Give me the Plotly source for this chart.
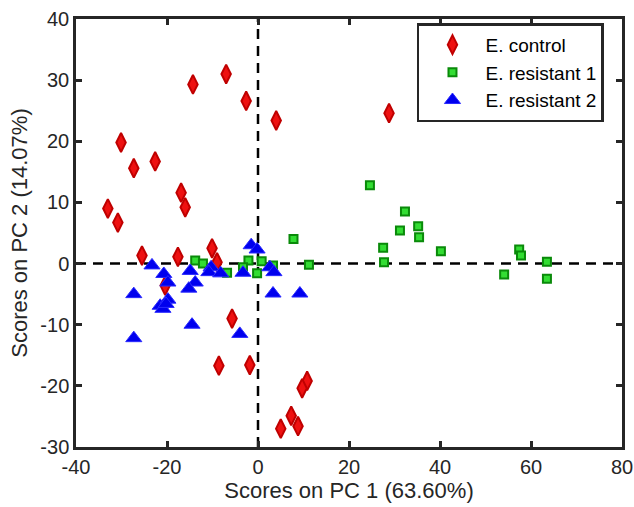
import plotly.graph_objects as go

ctrl_x = [28.8, 4.0, -2.6, -7.0, -14.3, -30.1, -22.6, -27.3, -16.9, -16.0, -33.0, -30.8, -25.5,
          -17.6, -10.1, -9.0, -20.4, -5.7, -8.6, -1.8, 10.8, 9.7, 7.3, 8.8, 5.0]
ctrl_y = [24.6, 23.4, 26.6, 31.0, 29.3, 19.8, 16.7, 15.6, 11.6, 9.2, 9.0, 6.7, 1.3,
          1.1, 2.5, 0.2, -3.6, -9.0, -16.7, -16.6, -19.2, -20.4, -24.9, -26.6, -27.0]

res1_x = [24.6, 32.3, 31.2, 35.2, 35.4, 27.5, 27.7, 40.2, 54.1, 57.4, 57.8, 63.5, 63.5,
          7.8, 11.2, -2.1, 0.8, -3.3, -0.2, 3.3, -6.8, -13.8, -12.1]
res1_y = [12.8, 8.5, 5.4, 6.1, 4.3, 2.6, 0.2, 2.0, -1.8, 2.3, 1.3, 0.3, -2.5,
          4.0, -0.2, 0.5, 0.4, -0.6, -1.6, -0.3, -1.5, 0.5, 0.0]

res2_x = [-23.3, -20.7, -19.8, -27.3, -27.3, -21.5, -20.9, -19.8, -20.2, -14.9, -13.8, -15.2,
          -14.5, -10.3, -10.8, -8.2, -4.0, -3.3, -1.5, -0.2, 2.6, 3.5, 3.3, 9.2]
res2_y = [-0.3, -1.7, -3.1, -5.0, -12.2, -6.9, -7.4, -5.9, -6.6, -1.2, -3.1, -4.1,
          -10.0, -0.6, -1.4, -1.6, -11.5, -1.5, 3.0, 2.3, -0.6, -1.4, -4.9, -4.9]

x_ticks = [-40, -20, 0, 20, 40, 60, 80]
y_ticks = [-30, -20, -10, 0, 10, 20, 30, 40]

FONT = "Liberation Sans, Arial, sans-serif"
AX = "#262626"

fig = go.Figure()
fig.add_trace(go.Scatter(x=ctrl_x, y=ctrl_y, mode="markers", name="E. control",
                         marker=dict(symbol="diamond-tall", size=13.5, color="#ee1111",
                                     line=dict(color="#c00000", width=2))))
fig.add_trace(go.Scatter(x=res1_x, y=res1_y, mode="markers", name="E. resistant 1",
                         marker=dict(symbol="square", size=8, color="#33dd33",
                                     line=dict(color="#0a8a0a", width=2))))
fig.add_trace(go.Scatter(x=res2_x, y=res2_y, mode="markers", name="E. resistant 2",
                         marker=dict(symbol="triangle-up", size=14, color="#0000ee",
                                     line=dict(color="#2a2aff", width=1))))

fig.add_shape(type="line", x0=0, x1=0, y0=-30, y1=40, xref="x", yref="y", layer="below",
              line=dict(color="black", width=2.5, dash="10px,7px"))
fig.add_shape(type="line", x0=-40, x1=80, y0=0, y1=0, xref="x", yref="y", layer="below",
              line=dict(color="black", width=2.5, dash="10px,7px"))

axis_common = dict(showgrid=False, zeroline=False, showline=True, linecolor=AX, linewidth=2.5,
                   mirror="ticks", ticks="inside", ticklen=6, tickwidth=2.5, tickcolor=AX,
                   automargin=False,
                   tickfont=dict(family=FONT, size=20, color=AX))

fig.update_xaxes(range=[-40, 80], tickvals=x_ticks, ticktext=[str(v) for v in x_ticks],
                 title=dict(text="Scores on PC 1 (63.60%)", font=dict(family=FONT, size=22, color=AX),
                            standoff=5),
                 **axis_common)
fig.update_yaxes(range=[-30, 40], tickvals=y_ticks, ticktext=[str(v) for v in y_ticks],
                 title=dict(text="Scores on PC 2 (14.07%)", font=dict(family=FONT, size=22, color=AX),
                            standoff=7),
                 **axis_common)

fig.update_layout(
    width=634, height=507,
    margin=dict(l=76, r=12, t=19, b=60),
    paper_bgcolor="white", plot_bgcolor="white",
    showlegend=True,
    legend=dict(x=0.967, y=0.99, xanchor="right", yanchor="top",
                bgcolor="white", bordercolor=AX, borderwidth=2.5,
                font=dict(family=FONT, size=19, color="black"),
                itemwidth=56),
)

fig.write_html("out.html")
